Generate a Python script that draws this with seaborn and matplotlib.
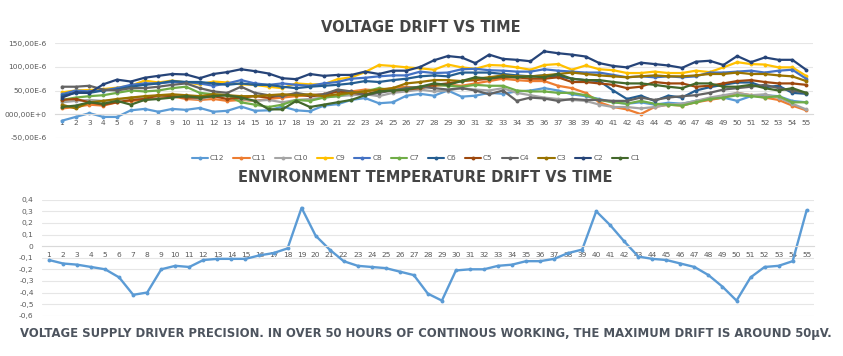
import numpy as np
import pandas as pd
import matplotlib
matplotlib.use("Agg")
import matplotlib.pyplot as plt
import seaborn as sns

hours = list(range(1, 56))

C12 = [-14, -6, 2, -6, -6, 8, 11, 5, 11, 9, 13, 5, 7, 16, 7, 8, 16, 8, 6, 18,
       21, 30, 34, 23, 25, 39, 43, 39, 50, 37, 39, 45, 43, 48, 50, 55, 50, 42, 38, 32,
       25, 22, 25, 20, 24, 22, 28, 32, 35, 28, 38, 40, 38, 28, 25]
C11 = [12, 15, 20, 18, 25, 28, 30, 35, 38, 32, 30, 32, 28, 30, 28, 32, 35, 38, 40, 42,
       50, 48, 52, 50, 55, 58, 55, 60, 62, 60, 65, 70, 75, 72, 70, 70, 60, 55, 45, 25,
       15, 10, 0, 15, 20, 18, 25, 30, 35, 45, 40, 35, 30, 18, 8]
C10 = [25, 28, 30, 28, 30, 35, 35, 38, 40, 35, 32, 38, 40, 32, 28, 30, 25, 30, 32, 35,
       38, 40, 42, 38, 45, 48, 52, 48, 50, 55, 52, 50, 55, 45, 40, 35, 32, 30, 28, 20,
       15, 15, 12, 15, 20, 22, 28, 35, 40, 45, 40, 42, 35, 22, 10]
C9 = [46, 50, 51, 53, 56, 60, 71, 67, 71, 67, 63, 69, 67, 63, 62, 58, 55, 65, 63, 63,
      74, 78, 89, 104, 102, 99, 97, 94, 105, 99, 96, 104, 103, 99, 94, 104, 106, 94, 103, 95,
      93, 87, 87, 90, 87, 87, 92, 89, 99, 110, 106, 105, 99, 99, 81]
C8 = [42, 50, 48, 50, 55, 62, 65, 65, 68, 68, 65, 60, 65, 72, 65, 62, 65, 62, 60, 65,
      68, 75, 77, 80, 82, 82, 90, 87, 88, 95, 96, 93, 92, 90, 90, 95, 92, 90, 88, 88,
      83, 78, 80, 78, 80, 78, 80, 88, 88, 90, 92, 88, 92, 94, 75]
C7 = [30, 35, 38, 40, 45, 50, 48, 50, 55, 58, 45, 42, 40, 25, 20, 15, 20, 30, 28, 35,
      38, 45, 48, 55, 50, 55, 58, 62, 60, 58, 62, 60, 60, 50, 48, 48, 45, 45, 40, 30,
      25, 22, 28, 22, 20, 18, 25, 32, 35, 40, 38, 35, 38, 25, 25]
C6 = [39, 45, 45, 50, 52, 58, 62, 65, 70, 68, 68, 65, 62, 65, 62, 62, 58, 55, 58, 60,
      62, 65, 70, 68, 72, 75, 80, 82, 80, 88, 88, 88, 85, 82, 80, 82, 80, 75, 72, 70,
      50, 32, 39, 28, 39, 35, 50, 57, 62, 67, 67, 57, 60, 45, 43]
C5 = [30, 32, 25, 20, 25, 30, 32, 40, 38, 35, 35, 38, 32, 35, 38, 35, 40, 42, 38, 40,
      48, 45, 42, 48, 50, 52, 55, 62, 65, 70, 72, 75, 78, 78, 75, 75, 78, 68, 68, 65,
      62, 55, 58, 68, 65, 65, 58, 60, 65, 70, 72, 68, 65, 65, 62]
C4 = [58, 58, 60, 52, 50, 55, 55, 58, 62, 65, 55, 48, 45, 58, 45, 40, 38, 45, 40, 42,
      52, 48, 40, 45, 50, 55, 58, 55, 52, 55, 50, 42, 50, 28, 35, 33, 28, 32, 30, 30,
      28, 28, 35, 30, 35, 38, 40, 45, 52, 55, 58, 62, 55, 50, 45]
C3 = [20, 12, 25, 28, 32, 35, 38, 40, 42, 40, 38, 42, 40, 38, 38, 40, 42, 40, 42, 38,
      42, 45, 48, 52, 55, 65, 68, 72, 72, 70, 75, 78, 82, 80, 80, 82, 85, 88, 85, 82,
      80, 78, 80, 82, 80, 80, 82, 85, 85, 88, 85, 85, 82, 80, 70]
C2 = [35, 46, 45, 63, 73, 69, 77, 81, 85, 84, 76, 85, 89, 95, 91, 86, 76, 74, 85, 81,
      83, 83, 90, 85, 92, 92, 100, 114, 123, 120, 108, 126, 117, 115, 112, 133, 129, 126, 122, 108,
      102, 99, 109, 106, 103, 98, 111, 113, 104, 123, 110, 120, 115, 115, 94]
C1 = [15, 18, 25, 22, 28, 20, 30, 32, 35, 38, 35, 38, 40, 35, 28, 10, 10, 28, 15, 20,
      25, 30, 40, 48, 50, 52, 58, 65, 62, 70, 78, 75, 80, 78, 80, 78, 85, 75, 72, 72,
      68, 65, 65, 62, 58, 55, 65, 65, 58, 58, 62, 55, 50, 55, 45]

temp_drift = [-0.12, -0.15, -0.16, -0.18, -0.20, -0.27, -0.42, -0.40, -0.20, -0.17,
              -0.18, -0.12, -0.11, -0.11, -0.11, -0.08, -0.06, -0.02, 0.33, 0.09,
              -0.03, -0.13, -0.17, -0.18, -0.19, -0.22, -0.25, -0.41, -0.47, -0.21,
              -0.20, -0.20, -0.17, -0.16, -0.13, -0.13, -0.11, -0.06, -0.03, 0.30,
              0.18, 0.04, -0.09, -0.11, -0.12, -0.15, -0.18, -0.25, -0.35, -0.47,
              -0.27, -0.18, -0.17, -0.13, 0.31]

series_names = ["C12", "C11", "C10", "C9", "C8", "C7", "C6", "C5", "C4", "C3", "C2", "C1"]
series_vals = [C12, C11, C10, C9, C8, C7, C6, C5, C4, C3, C2, C1]
colors = ["#5B9BD5", "#ED7D31", "#A5A5A5", "#FFC000", "#4472C4", "#70AD47",
          "#255E91", "#9E480E", "#636363", "#997300", "#264478", "#43682B"]

volt_ticks = [-50, 0, 50, 100, 150]
volt_tick_labels = ["-50,00E-6", "000,00E+0", "50,00E-6", "100,00E-6", "150,00E-6"]
temp_ticks = [-0.6, -0.5, -0.4, -0.3, -0.2, -0.1, 0, 0.1, 0.2, 0.3, 0.4]
temp_tick_labels = ["-0,6", "-0,5", "-0,4", "-0,3", "-0,2", "-0,1", "0", "0,1", "0,2", "0,3", "0,4"]

sns.set_theme(style="white")
plt.rcParams['font.family'] = ['DejaVu Sans']

W, H = 843, 356
fig = plt.figure(figsize=(W / 100, H / 100), dpi=100)
fig.patch.set_facecolor("white")

tick_color = "#595959"
grid_color = "#e6e6e6"
title_color = "#454545"

# ---- Top chart ----
ax1 = fig.add_axes([55 / W, 1 - 137.7 / H, (813 - 55) / W, (137.7 - 43.3) / H])
rows = []
for name, vals in zip(series_names, series_vals):
    for h, v in zip(hours, vals):
        rows.append((name, h, v))
df = pd.DataFrame(rows, columns=["series", "hour", "value"])
sns.lineplot(data=df, x="hour", y="value", hue="series", hue_order=series_names,
             palette=colors, marker="o", markersize=2.8, markeredgewidth=0,
             linewidth=1.6, ax=ax1, legend=False)
ax1.set_xlim(0.5, 55.5)
ax1.set_ylim(-50, 150)
ax1.set_yticks(volt_ticks)
ax1.set_yticklabels(volt_tick_labels)
ax1.set_xticks(hours)
ax1.set_xticklabels([str(h) for h in hours])
ax1.grid(axis="y", color=grid_color, linewidth=0.8)
ax1.set_axisbelow(True)
for s in ["top", "right", "left"]:
    ax1.spines[s].set_visible(False)
ax1.spines["bottom"].set_position(("data", 0))
ax1.spines["bottom"].set_color("#d9d9d9")
ax1.spines["bottom"].set_linewidth(0.8)
ax1.tick_params(axis="both", length=0, labelsize=5.4, colors=tick_color)
ax1.tick_params(axis="x", pad=4)
ax1.tick_params(axis="y", pad=6)
ax1.set_xlabel("")
ax1.set_ylabel("")

fig.text(421 / W, 1 - 28 / H, "VOLTAGE DRIFT VS TIME", ha="center", va="center",
         fontsize=10.5, fontweight="bold", color=title_color)

# legend
from matplotlib.lines import Line2D
handles = [Line2D([0], [0], color=c, marker="o", markersize=2.8, markeredgewidth=0, linewidth=1.5)
           for c in colors]
fig.legend(handles, series_names, loc="center", bbox_to_anchor=(416 / W, 1 - 158 / H),
           ncol=12, frameon=False, fontsize=5.3, handlelength=2.2, handletextpad=0.3,
           columnspacing=1.2, labelcolor=tick_color)

# ---- Bottom chart ----
ax2 = fig.add_axes([42 / W, 1 - 315.7 / H, (813.7 - 42) / W, (315.7 - 199.7) / H])
dft = pd.DataFrame({"hour": hours, "drift": temp_drift})
sns.lineplot(data=dft, x="hour", y="drift", color="#5B9BD5", marker="o",
             markersize=2.8, markeredgewidth=0, linewidth=1.7, ax=ax2)
ax2.set_xlim(0.5, 55.5)
ax2.set_ylim(-0.6, 0.4)
ax2.set_yticks(temp_ticks)
ax2.set_yticklabels(temp_tick_labels)
ax2.set_xticks(hours)
ax2.set_xticklabels([str(h) for h in hours])
ax2.grid(axis="y", color=grid_color, linewidth=0.8)
ax2.set_axisbelow(True)
for s in ["top", "right", "left"]:
    ax2.spines[s].set_visible(False)
ax2.spines["bottom"].set_position(("data", 0))
ax2.spines["bottom"].set_color("#d9d9d9")
ax2.spines["bottom"].set_linewidth(0.8)
ax2.tick_params(axis="both", length=0, labelsize=5.4, colors=tick_color)
ax2.tick_params(axis="x", pad=4)
ax2.tick_params(axis="y", pad=6)
ax2.set_xlabel("")
ax2.set_ylabel("")

fig.text(425 / W, 1 - 178 / H, "ENVIRONMENT TEMPERATURE DRIFT VS TIME", ha="center", va="center",
         fontsize=10.5, fontweight="bold", color=title_color)

fig.text(426 / W, 1 - 334 / H,
         "VOLTAGE SUPPLY DRIVER PRECISION. IN OVER 50 HOURS OF CONTINOUS WORKING, THE MAXIMUM DRIFT IS AROUND 50µV.",
         ha="center", va="center", fontsize=8.4, fontweight="bold", color="#4d545e")

fig.savefig("out.png", dpi=100, facecolor="white")
